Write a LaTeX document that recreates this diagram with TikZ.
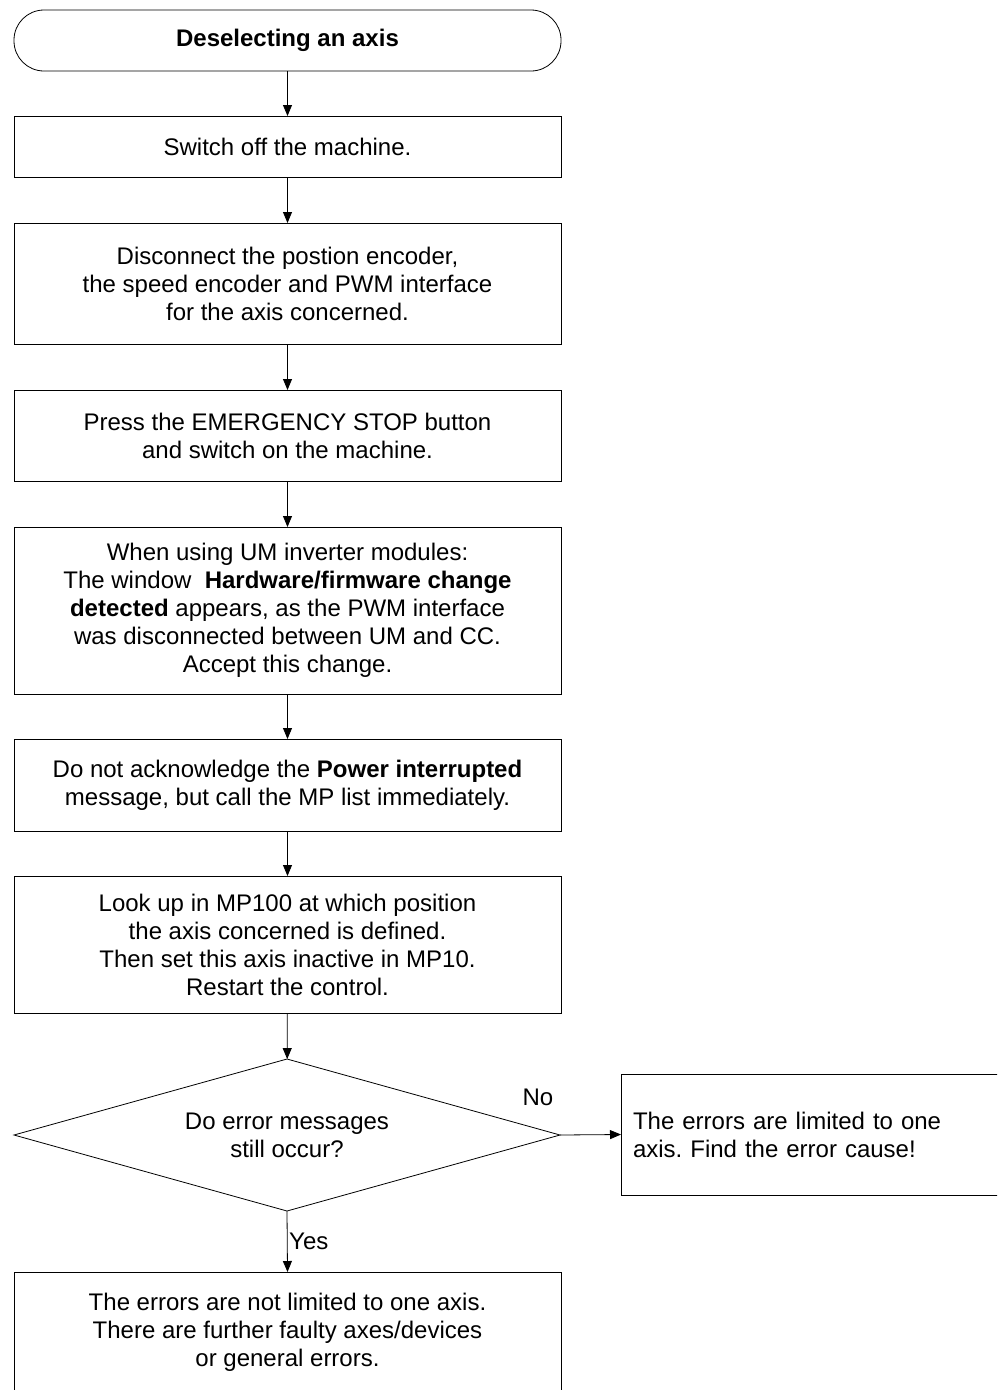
\documentclass[tikz,border=0pt]{standalone}
\usepackage{fontspec}
\setmainfont{Liberation Sans}
\usetikzlibrary{shapes.geometric,arrows.meta}
\frenchspacing
\begin{document}
\begin{tikzpicture}[x=1pt,y=-1pt,
  every node/.style={font=\fontsize{24}{28}\selectfont},
  box/.style={draw, line width=0.8pt, minimum width=547pt, align=center, inner sep=0pt, outer sep=0pt},
  arr/.style={-{Triangle[length=11pt,width=9pt]}, line width=0.8pt}]
\useasboundingbox (0,0) rectangle (997,1390);
\clip (0,0) rectangle (997,1390);
\node[box, rounded corners=30pt, minimum height=61pt] (start) at (287.5,40.5) {\textbf{Deselecting an axis}};
\node[box, minimum height=61pt] (b1) at (287.5,146.5) {Switch off the machine.};
\node[box, minimum height=121pt] (b2) at (287.5,283.5) {Disconnect the postion encoder,\\the speed encoder and PWM interface\\for the axis concerned.};
\node[box, minimum height=91pt] (b3) at (287.5,435.5) {Press the EMERGENCY STOP button\\and switch on the machine.};
\node[box, minimum height=167pt] (b4) at (287.5,610.5) {When using UM inverter modules:\\The window\ \ \textbf{Hardware/firmware change}\\\textbf{detected} appears, as the PWM interface\\was disconnected between UM and CC.\\Accept this change.};
\node[box, minimum height=92pt] (b5) at (287.5,785) {Do not acknowledge the \textbf{Power interrupted}\\message, but call the MP list immediately.};
\node[box, minimum height=137pt] (b6) at (287.5,944.5) {Look up in MP100 at which position\\the axis concerned is defined.\\Then set this axis inactive in MP10.\\Restart the control.};
\node[draw, line width=0.8pt, shape=diamond, aspect=3.6, minimum width=546pt, minimum height=152pt, inner sep=0pt, outer sep=0pt, align=center] (dec) at (287,1135) {Do error messages\\still occur?};
\node[draw, line width=0.8pt, minimum width=400pt, minimum height=121pt, inner xsep=12pt, inner ysep=0pt, outer sep=0pt, align=left, text width=376pt] (r) at (821,1134.5) {\raggedright The errors are limited to one\\axis. Find the error cause!};
\node[box, minimum height=120pt] (b7) at (287.5,1332) {The errors are not limited to one axis.\\There are further faulty axes/devices\\or general errors.};
\node (no) at (538,1097) {No};
\node[anchor=west, inner sep=0pt] (yes) at (289,1241) {Yes};
\draw[arr] (start) -- (b1);
\draw[arr] (b1) -- (b2);
\draw[arr] (b2) -- (b3);
\draw[arr] (b3) -- (b4);
\draw[arr] (b4) -- (b5);
\draw[arr] (b5) -- (b6);
\draw[arr] (b6) -- (dec);
\draw[arr] (dec.east) -- (r.west);
\draw[arr] (dec.south) -- (b7.north);
\end{tikzpicture}
\end{document}
